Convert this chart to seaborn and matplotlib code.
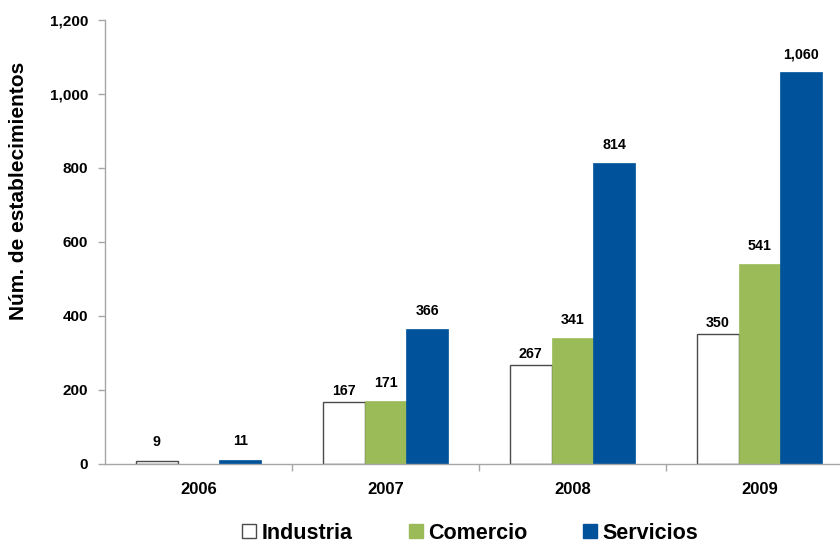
import matplotlib
matplotlib.use("Agg")
import matplotlib.pyplot as plt
import seaborn as sns
import pandas as pd
from matplotlib.patches import Patch

years = ["2006", "2007", "2008", "2009"]
industria = [9, 167, 267, 350]
comercio = [0, 171, 341, 541]
servicios = [11, 366, 814, 1060]
series_names = ["Industria", "Comercio", "Servicios"]
yticks = [0, 200, 400, 600, 800, 1000, 1200]

sns.set_theme(style="white")
plt.rcParams['font.family'] = ['Liberation Sans', 'DejaVu Sans']
plt.rcParams['font.weight'] = 'bold'
plt.rcParams['text.color'] = 'black'
plt.rcParams['axes.labelcolor'] = 'black'
plt.rcParams['xtick.labelcolor'] = 'black'
plt.rcParams['ytick.labelcolor'] = 'black'

rows = []
for i, y in enumerate(years):
    for name, vals in zip(series_names, [industria, comercio, servicios]):
        rows.append({"Año": y, "Serie": name, "Valor": vals[i]})
df = pd.DataFrame(rows)

colors = {"Industria": "#FFFFFF", "Comercio": "#9BBB59", "Servicios": "#00529B"}
edge = "#4a4a4a"
axis_gray = "#A6A6A6"
label_pad = {"Industria": 3, "Comercio": 7.5, "Servicios": 7.5}

fig = plt.figure(figsize=(8.4, 5.44), dpi=100)
ax = fig.add_axes([0.125, 0.1471, 0.8905, 0.8162])
sns.barplot(data=df, x="Año", y="Valor", hue="Serie", palette=colors,
            width=0.67, gap=0, ax=ax, legend=False, saturation=1)

for cont, name in zip(ax.containers, series_names):
    for bar in cont:
        if name == "Industria":
            bar.set_edgecolor(edge)
            bar.set_linewidth(1.0)
        else:
            bar.set_edgecolor(colors[name])
            bar.set_linewidth(0.5)
    vals = list(cont.datavalues)
    big = [f"{v:,.0f}" if v >= 100 else "" for v in vals]
    small = [f"{v:,.0f}" if 0 < v < 100 else "" for v in vals]
    ax.bar_label(cont, labels=big, padding=label_pad[name], fontsize=10.3, fontweight='bold', color='black')
    ax.bar_label(cont, labels=small, padding=8.5, fontsize=10.3, fontweight='bold', color='black')

ax.set_ylim(0, 1200)
ax.set_yticks(yticks)
ax.set_yticklabels([f"{v:,}" for v in yticks], fontsize=11, fontweight='bold', color='black')
ax.set_xlim(-0.5, 3.5)
ax.set_xticks(range(len(years)))
ax.set_xticklabels(years, fontsize=12, fontweight='bold', color='black')
ax.set_xticks([0.5, 1.5, 2.5], minor=True)
ax.tick_params(axis='x', which='major', length=0, pad=13)
ax.tick_params(axis='x', which='minor', length=5, color=axis_gray, width=1, direction='out', bottom=True)
ax.tick_params(axis='y', length=5, color=axis_gray, width=1, direction='out', left=True, pad=7)
ax.set_xlabel("")
ax.set_ylabel("Núm. de establecimientos", fontsize=15, fontweight='bold', color='black')
ax.yaxis.set_label_coords(-0.103, 0.615)

for s in ["top", "right"]:
    ax.spines[s].set_visible(False)
for s in ["left", "bottom"]:
    ax.spines[s].set_color(axis_gray)
    ax.spines[s].set_linewidth(1.0)

handles = [Patch(facecolor=colors[n], edgecolor=(edge if n == "Industria" else colors[n]), label=n)
           for n in series_names]
leg = fig.legend(handles=handles, loc="center", bbox_to_anchor=(0.56, 0.02), ncol=3,
                 frameon=False, prop={'size': 15.5, 'weight': 'bold'},
                 handlelength=0.65, handleheight=0.65, handletextpad=0.25, columnspacing=2.6)
for t in leg.get_texts():
    t.set_color('black')

fig.savefig("out.png", dpi=100)
